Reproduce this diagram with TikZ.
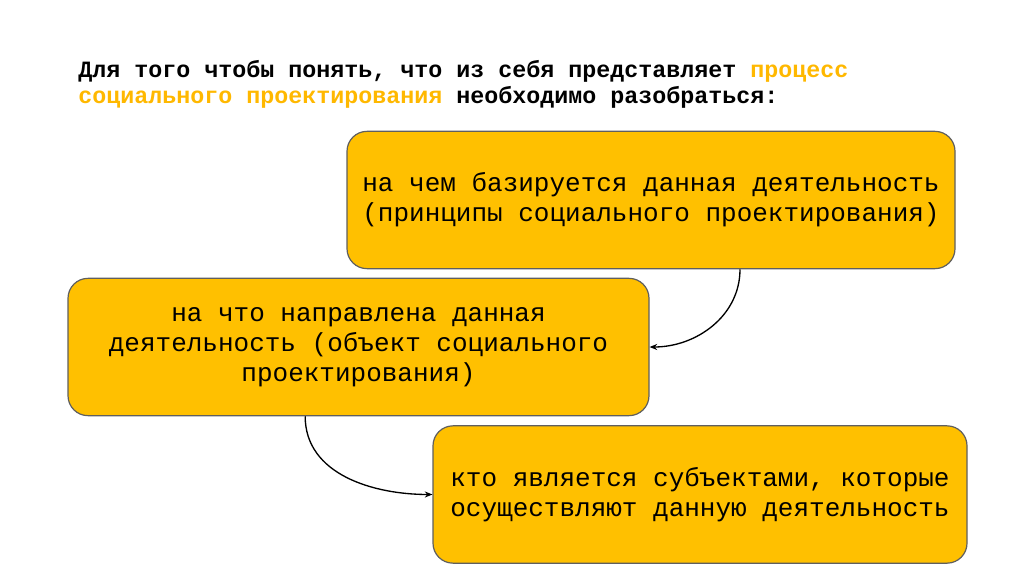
\documentclass[tikz,border=0pt]{standalone}
\usepackage{fontspec}
\setmainfont{Liberation Mono}
\usetikzlibrary{arrows.meta, positioning}
\definecolor{boxamber}{HTML}{FFC000}
\definecolor{boxedge}{HTML}{5F5F5F}
\definecolor{textamber}{HTML}{FFB800}

\begin{document}
\begin{tikzpicture}[
  x=0.75pt, y=-0.75pt,
  % main boxes
  qbox/.style={draw=boxedge, rounded corners=15pt, fill=boxamber, line width=0.9pt,
               align=center, font=\fontsize{19.5}{22.5}\selectfont,
               minimum height=103pt, inner sep=0pt},
  % arrows
  arr/.style={-{Stealth[length=2mm, width=1.6mm]}, black, line width=1pt},
]
\useasboundingbox (0,0) rectangle (1024,574);

% ── заголовок ─────────────────────────────
\node[anchor=north west, align=left, inner sep=0pt,
      font=\fontsize{17.5}{19.5}\selectfont\bfseries] (title) at (78,60) {%
  Для того чтобы понять, что из себя представляет \textcolor{textamber}{процесс}\\
  \textcolor{textamber}{социального проектирования} необходимо разобраться:};

% ── блоки ───────────────────────────────
\node[qbox, minimum width=456pt] (base) at (651,200) {%
  на чем базируется данная деятельность\\
  (принципы социального проектирования)};

\node[qbox, minimum width=435.75pt] (target) at (358.5,347) {%
  на что направлена данная\\
  деятельность (объект социального\\
  проектирования)};

\node[qbox, minimum width=400.5pt] (actors) at (700,494.5) {%
  кто является субъектами, которые\\
  осуществляют данную деятельность};

% ── стрелки ─────────────────────────────
\draw[arr] ([xshift=66.75pt]base.south) to[out=-90, in=0] (target.east);
\draw[arr] ([xshift=-40pt]target.south) to[out=-90, in=180] (actors.west);

\end{tikzpicture}
\end{document}
